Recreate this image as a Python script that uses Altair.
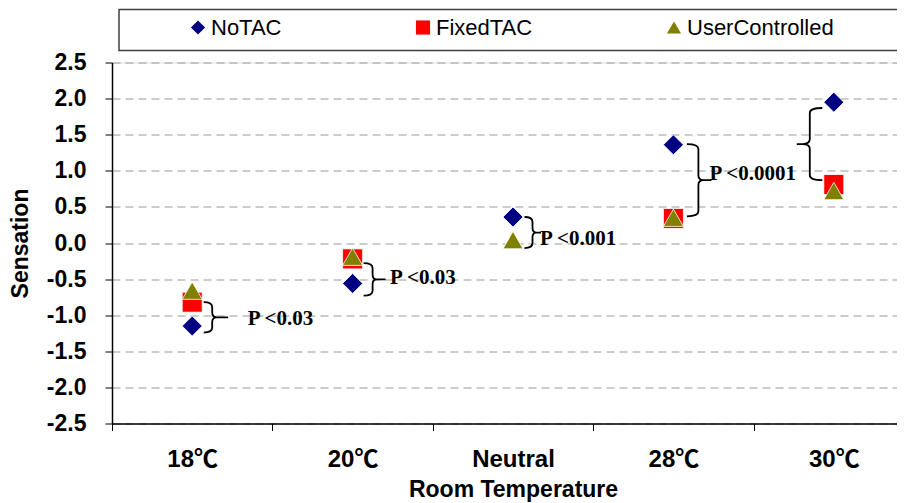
import altair as alt
import pandas as pd

# ---------------- data ----------------
categories = ["18℃", "20℃", "Neutral", "28℃", "30℃"]
series_names = ["NoTAC", "FixedTAC", "UserControlled"]
no_tac = [-1.15, -0.56, 0.36, 1.36, 1.95]
fixed_tac = [-0.82, -0.22, None, 0.34, 0.81]
user_controlled = [-0.66, -0.19, 0.04, 0.35, 0.72]

brace_cat = ["18℃", "20℃", "Neutral", "28℃", "30℃"]
brace_top = [-0.82, -0.28, 0.36, 1.37, 1.87]
brace_bottom = [-1.24, -0.73, -0.07, 0.37, 0.87]

ann_cat = ["18℃", "20℃", "Neutral", "28℃"]
ann_text = ["P <0.03", "P <0.03", "P <0.001", "P <0.0001"]
ann_y = [-1.05, -0.49, 0.05, 0.96]

y_ticks = [-2.5, -2.0, -1.5, -1.0, -0.5, 0.0, 0.5, 1.0, 1.5, 2.0, 2.5]

# ---------------- style ----------------
W, H = 802, 361
Y_MIN, Y_MAX = -2.5, 2.5
PX_PER_UNIT = H / (Y_MAX - Y_MIN)
colors = ["#000080", "#FF0000", "#808000"]
shapes = ["diamond", "square", "triangle-up"]
SANS = "Liberation Sans, Noto Sans CJK SC"
SERIF = "Liberation Serif"

# brace geometry in px relative to band centre: (ends, vertical, tip, tick end)
brace_geom = [
    (11.5, 20, 24.5, 36),
    (11, 20, 24, 33),
    (11.5, 19.5, 23, 28),
    (13.5, 25, 30, 38),
    (-11.5, -24, -31, -37),
]
ann_dx = [55.5, 37.5, 27, 36]


def brace_path(h, e, v, t, k, r=5.0):
    s = 2.0 / h
    hh = h / 2.0
    rr = min(r, hh / 3.0)
    f = lambda a: f"{a * s:.4f}"
    return (
        f"M{f(e)},{f(-hh)} Q{f(v)},{f(-hh)} {f(v)},{f(-hh + rr)} "
        f"L{f(v)},{f(-rr)} Q{f(v)},0 {f(t)},0 L{f(k)},0 "
        f"M{f(t)},0 Q{f(v)},0 {f(v)},{f(rr)} "
        f"L{f(v)},{f(hh - rr)} Q{f(v)},{f(hh)} {f(e)},{f(hh)}"
    )


rows = []
for name, vals in zip(series_names, [no_tac, fixed_tac, user_controlled]):
    for c, v in zip(categories, vals):
        if v is not None:
            rows.append({"cat": c, "series": name, "value": v})
df = pd.DataFrame(rows)

x_enc = alt.X(
    "cat:N",
    sort=categories,
    scale=alt.Scale(type="band", domain=categories, paddingInner=0, paddingOuter=0),
    axis=alt.Axis(
        title="Room Temperature",
        tickBand="extent",
        labelAngle=0,
        grid=False,
        labelFont=SANS,
        labelFontSize=24,
        labelFontWeight="bold",
        labelColor="black",
        labelPadding=17,
        tickSize=7,
        tickColor="black",
        domainColor="black",
        domainWidth=1.5,
        titleFont=SANS,
        titleFontSize=23,
        titleFontWeight="bold",
        titleColor="black",
        titleY=66,
        titleBaseline="middle",
    ),
)

y_scale = alt.Scale(domain=[Y_MIN, Y_MAX], nice=False, zero=False)
y_axis = alt.Axis(
    title="Sensation",
    values=y_ticks,
    labelExpr="datum.value < 0 ? '-' + format(-datum.value, '.1f') : format(datum.value, '.1f')",
    grid=True,
    gridColor="#9a9a9a",
    gridDash=[8, 5],
    gridWidth=1,
    labelFont=SANS,
    labelFontSize=23,
    labelFontWeight="bold",
    labelColor="black",
    labelPadding=19,
    tickSize=7,
    tickColor="black",
    domainColor="black",
    domainWidth=1.5,
    titleFont=SANS,
    titleFontSize=23,
    titleFontWeight="bold",
    titleColor="black",
    titleX=-92,
    titleY=H / 2,
    titleAngle=-90,
    titleBaseline="middle",
)

legend = alt.Legend(
    title=None,
    orient="none",
    legendX=75,
    legendY=-46,
    direction="horizontal",
    labelFont=SANS,
    labelFontSize=22,
    labelColor="black",
    symbolSize=200,
    labelOffset=2,
    columnPadding=130,
    padding=0,
    symbolStrokeWidth=0,
)

box = alt.Chart(alt.Data(values=[{}])).mark_rect(
    fill="white", fillOpacity=0, stroke="#404040", strokeWidth=1.5
).encode(
    x=alt.value(7), x2=alt.value(905), y=alt.value(-53), y2=alt.value(-12)
)

points = alt.Chart(df).mark_point(
    filled=True, size=400, opacity=1, stroke="white", strokeWidth=0.8
).encode(
    x=x_enc,
    y=alt.Y("value:Q", scale=y_scale, axis=y_axis),
    color=alt.Color(
        "series:N",
        scale=alt.Scale(domain=series_names, range=colors),
        legend=legend,
    ),
    shape=alt.Shape(
        "series:N",
        scale=alt.Scale(domain=series_names, range=shapes),
        legend=legend,
    ),
)

braces = []
for c, top, bot, g in zip(brace_cat, brace_top, brace_bottom, brace_geom):
    h = (top - bot) * PX_PER_UNIT
    bdf = pd.DataFrame({"cat": [c], "mid": [(top + bot) / 2]})
    braces.append(
        alt.Chart(bdf).mark_point(
            filled=False, color="black", strokeWidth=1.8, opacity=1,
            shape=brace_path(h, *g), size=h * h,
        ).encode(
            x=x_enc,
            y=alt.Y("mid:Q", scale=y_scale, axis=y_axis),
        )
    )

texts = []
for c, t, yv, dx in zip(ann_cat, ann_text, ann_y, ann_dx):
    tdf = pd.DataFrame({"cat": [c], "value": [yv], "label": [t]})
    texts.append(
        alt.Chart(tdf).mark_text(
            align="left", baseline="middle", dx=dx, font=SERIF,
            fontWeight="bold", fontSize=21, color="black",
        ).encode(
            x=x_enc,
            y=alt.Y("value:Q", scale=y_scale, axis=y_axis),
            text="label:N",
        )
    )

chart = alt.layer(box, *braces, points, *texts).properties(
    width=W,
    height=H,
    padding={"left": 104, "top": 54.5, "right": -17, "bottom": 78},
    autosize=alt.AutoSizeParams(type="none"),
).configure_view(stroke=None).configure(background="white")

chart.save("out.html", embed_options={"renderer": "svg", "actions": False})
